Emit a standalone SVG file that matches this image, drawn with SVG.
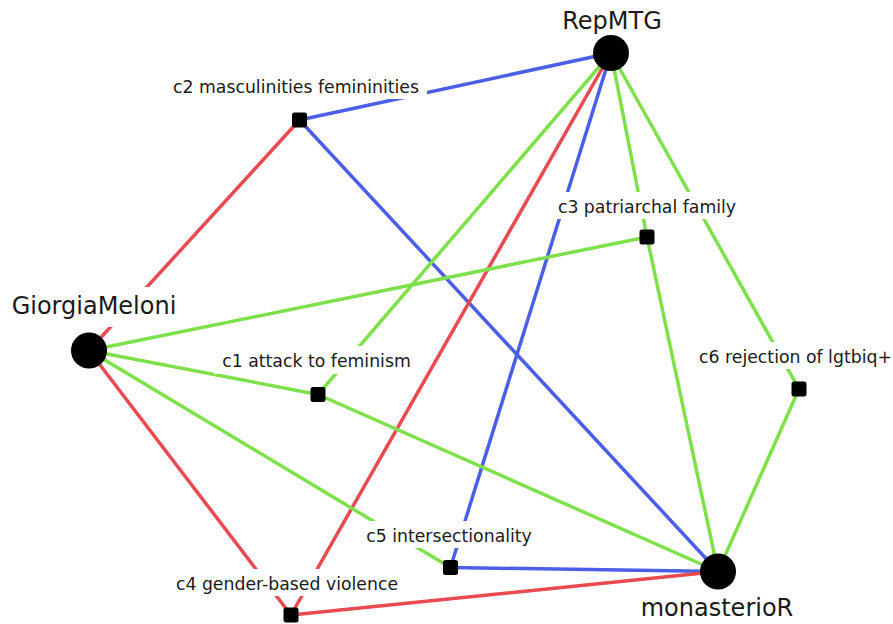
<svg xmlns="http://www.w3.org/2000/svg" width="893" height="624" viewBox="0 0 893 624">
<style>
.e{stroke-width:3.5;fill:none;stroke-linecap:butt}
.b{stroke:#4a5fe6}
.r{stroke:#e84a4f}
.g{stroke:#7ee14b}
.bg{fill:#ffffff}
.big{font-family:"DejaVu Sans",sans-serif;font-size:24px;fill:#1a1a1a;text-anchor:middle}
.sm{font-family:"DejaVu Sans",sans-serif;font-size:17.3px;fill:#1a1a1a;text-anchor:middle}
.sq{fill:#000}
.ci{fill:#000}
</style>
<rect width="893" height="624" fill="#ffffff"/>
<g id="connectors">
<line class="e b" x1="611" y1="53" x2="299.5" y2="120"/>
<line class="e b" x1="299.5" y1="120" x2="718" y2="571.5"/>
<line class="e b" x1="611" y1="53" x2="450.5" y2="567.5"/>
<line class="e b" x1="450.5" y1="567.5" x2="718" y2="571.5"/>
<line class="e r" x1="299.5" y1="120" x2="89" y2="350.5"/>
<line class="e r" x1="611" y1="53" x2="291" y2="615"/>
<line class="e r" x1="89" y1="350.5" x2="291" y2="615"/>
<line class="e r" x1="291" y1="615" x2="718" y2="571.5"/>
<line class="e g" x1="611" y1="53" x2="318" y2="394.5"/>
<line class="e g" x1="611" y1="53" x2="647" y2="237"/>
<line class="e g" x1="611" y1="53" x2="799" y2="389"/>
<line class="e g" x1="89" y1="350.5" x2="647" y2="237"/>
<line class="e g" x1="89" y1="350.5" x2="318" y2="394.5"/>
<line class="e g" x1="89" y1="350.5" x2="450.5" y2="567.5"/>
<line class="e g" x1="318" y1="394.5" x2="718" y2="571.5"/>
<line class="e g" x1="647" y1="237" x2="718" y2="571.5"/>
<line class="e g" x1="799" y1="389" x2="718" y2="571.5"/>
</g>
<g id="RepMTG">
<circle class="ci" cx="611" cy="53" r="18"/>
<text class="big" x="612" y="29">RepMTG</text>
</g>
<g id="GiorgiaMeloni">
<rect class="bg" x="8" y="287" width="174" height="40"/>
<circle class="ci" cx="89" cy="350.5" r="18"/>
<text class="big" x="94" y="314">GiorgiaMeloni</text>
</g>
<g id="monasterioR">
<circle class="ci" cx="718" cy="571.5" r="18"/>
<text class="big" x="717" y="616">monasterioR</text>
</g>
<g id="c2">
<rect class="bg" x="165" y="72" width="262" height="27"/>
<rect class="sq" x="292" y="112.5" width="15" height="15" rx="2.5"/>
<text class="sm" x="296" y="93">c2 masculinities femininities</text>
</g>
<g id="c3">
<rect class="bg" x="549" y="192" width="196" height="27"/>
<rect class="sq" x="639.5" y="229.5" width="15" height="15" rx="2.5"/>
<text class="sm" x="647" y="213">c3 patriarchal family</text>
</g>
<g id="c1">
<rect class="bg" x="214" y="346" width="205" height="28"/>
<rect class="sq" x="310.5" y="387" width="15" height="15" rx="2.5"/>
<text class="sm" x="316.5" y="367">c1 attack to feminism</text>
</g>
<g id="c6">
<rect class="bg" x="691" y="342" width="202" height="27"/>
<rect class="sq" x="791.5" y="381.5" width="15" height="15" rx="2.5"/>
<text class="sm" x="795.5" y="363">c6 rejection of lgtbiq+</text>
</g>
<g id="c5">
<rect class="bg" x="358" y="521" width="182" height="27"/>
<rect class="sq" x="443" y="560" width="15" height="15" rx="2.5"/>
<text class="sm" x="449" y="542">c5 intersectionality</text>
</g>
<g id="c4">
<rect class="bg" x="167" y="569" width="240" height="27"/>
<rect class="sq" x="283.5" y="607.5" width="15" height="15" rx="2.5"/>
<text class="sm" x="287" y="590">c4 gender-based violence</text>
</g>
</svg>
